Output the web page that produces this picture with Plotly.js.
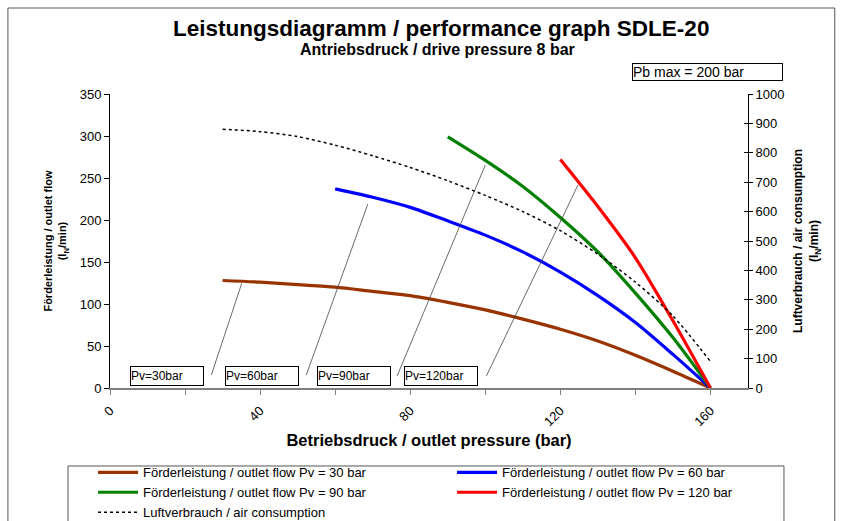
<!DOCTYPE html>
<html>
<head>
<meta charset="utf-8">
<script src="https://cdn.plot.ly/plotly-3.0.1.min.js"></script>
<style>html,body{margin:0;padding:0;background:#fff;}#chart{width:842px;height:521px;}</style>
</head>
<body>
<div id="chart"></div>
<script>
// ---- data ----
const pressure30 = [30, 40, 50, 60, 70, 80, 90, 100, 110, 120, 130, 140, 150, 160];
const flow30     = [128, 126, 123, 120, 115, 110, 102, 93, 82, 70, 56, 39, 20, 0];
const pressure60 = [60, 70, 80, 90, 100, 110, 120, 130, 140, 150, 160];
const flow60     = [237, 227, 215, 199, 182, 162, 138, 110, 78, 40, 0];
const pressure90 = [90, 100, 110, 120, 130, 140, 150, 160];
const flow90     = [299, 271, 240, 203, 162, 113, 60, 0];
const pressure120 = [120, 130, 140, 150, 160];
const flow120     = [272, 216, 155, 80, 0];
const airPressure = [30, 40, 50, 60, 70, 80, 90, 100, 110, 120, 130, 140, 150, 160];
const airFlow     = [880, 872, 855, 826, 790, 750, 705, 655, 600, 535, 455, 360, 245, 90];

const seriesNames = [
  "Förderleistung / outlet flow Pv = 30 bar",
  "Förderleistung / outlet flow Pv = 60 bar",
  "Förderleistung / outlet flow Pv = 90 bar",
  "Förderleistung / outlet flow Pv = 120 bar",
  "Luftverbrauch / air consumption"
];
const xTickVals = [0, 20, 40, 60, 80, 100, 120, 140, 160];
const xTickText = ["0", "", "40", "", "80", "", "120", "", "160"];
const boxLabels = ["Pv=30bar", "Pv=60bar", "Pv=90bar", "Pv=120bar"];

const FONT = "Liberation Sans, Arial, Helvetica, sans-serif";

function line(x, y, name, color) {
  return {
    x: x, y: y, name: name, type: "scatter", mode: "lines",
    line: {color: color, width: 3.2, shape: "spline", smoothing: 0.8},
    hoverinfo: "skip"
  };
}

const traces = [
  line(pressure30, flow30, seriesNames[0], "#993300"),
  line(pressure60, flow60, seriesNames[1], "#0000FF"),
  line(pressure90, flow90, seriesNames[2], "#008000"),
  line(pressure120, flow120, seriesNames[3], "#FF0000"),
  {x: airPressure, y: airFlow, name: seriesNames[4], type: "scatter", mode: "lines", yaxis: "y2",
   line: {color: "#000000", width: 1.5, dash: "dot", shape: "spline", smoothing: 0.8}, hoverinfo: "skip"},
  // empty helper trace so the inner half of the right-axis ticks is drawn (ticks cross the axis)
  {x: [], y: [], type: "scatter", mode: "lines", yaxis: "y3", showlegend: false, hoverinfo: "skip"}
];

// leader lines (box -> curve), in data units
const leaders = [
  [27, 15.5, 35.1, 124.6],
  [52.3, 15.5, 68.7, 219],
  [76.5, 14.3, 100, 265.5],
  [100.3, 14.3, 124.7, 241.7]
];
const boxLeft = [5.3, 30.7, 55.1, 78.4];

const shapes = leaders.map(l => ({type: "line", xref: "x", yref: "y", x0: l[0], y0: l[1], x1: l[2], y1: l[3],
  line: {color: "#444444", width: 0.8}}));
// outer chart frame
shapes.push({type: "rect", xref: "paper", yref: "paper", x0: -0.16, x1: 1.136, y0: -0.6, y1: 1.2925,
  line: {color: "#555555", width: 1}, layer: "below"});
// legend frame
shapes.push({type: "rect", xref: "paper", yref: "paper", x0: -0.0658, x1: 1.0564, y0: -0.6, y1: -0.2653,
  line: {color: "#555555", width: 1}});

const annotations = boxLabels.map((t, i) => ({
  text: t, xref: "x", yref: "y", x: boxLeft[i], y: 14.5, xanchor: "left", yanchor: "middle",
  showarrow: false, align: "left", width: 72, height: 18, borderpad: 0,
  bordercolor: "#000", borderwidth: 1, bgcolor: "#fff",
  font: {family: FONT, size: 12, color: "#000"}
}));
annotations.push({
  text: "Pb max = 200 bar", xref: "paper", yref: "paper", x: 0.818, y: 1.105, xanchor: "left", yanchor: "top",
  showarrow: false, align: "left", width: 149, height: 16, borderpad: 0,
  bordercolor: "#000", borderwidth: 1, bgcolor: "#fff",
  font: {family: FONT, size: 14, color: "#000"}
});
annotations.push({
  text: "<b>Antriebsdruck / drive pressure 8 bar</b>", xref: "paper", yref: "paper",
  x: 0.514, y: 1.153, xanchor: "center", yanchor: "middle", showarrow: false,
  font: {family: FONT, size: 16, color: "#000"}
});

const layout = {
  width: 842, height: 521,
  margin: {l: 110, r: 94, t: 94, b: 133, autoexpand: false},
  paper_bgcolor: "#fff", plot_bgcolor: "#fff",
  font: {family: FONT, color: "#000"},
  title: {text: "<b>Leistungsdiagramm / performance graph SDLE-20</b>",
    x: 0.524, xanchor: "center", y: 0.946, yanchor: "middle", yref: "container",
    font: {family: FONT, size: 22.5, color: "#000"}},
  xaxis: {
    range: [0, 170], tickmode: "array", tickvals: xTickVals, ticktext: xTickText,
    tickangle: -45, ticks: "outside", ticklen: 5, tickcolor: "#808080",
    showline: true, linecolor: "#808080", linewidth: 2, showgrid: false, zeroline: false,
    tickfont: {family: FONT, size: 13, color: "#000"}, automargin: false, ticklabelstandoff: 3,
    title: {text: "<b>Betriebsdruck / outlet pressure (bar)</b>", standoff: 6,
      font: {family: FONT, size: 16.5, color: "#000"}},
    fixedrange: true
  },
  yaxis: {
    range: [0, 350], dtick: 50, ticks: "outside", ticklen: 5, tickcolor: "#000",
    showline: true, linecolor: "#000", linewidth: 1, showgrid: false, zeroline: false,
    tickfont: {family: FONT, size: 13, color: "#000"}, automargin: false,
    title: {text: "<b>Förderleistung / outlet flow<br>(l<sub>N</sub>/min)</b>", standoff: 10,
      font: {family: FONT, size: 11, color: "#000"}},
    fixedrange: true
  },
  yaxis2: {
    range: [0, 1000], dtick: 100, overlaying: "y", side: "right", anchor: "x",
    ticks: "outside", ticklen: 4, tickcolor: "#000",
    showline: true, linecolor: "#000", linewidth: 1, showgrid: false, zeroline: false,
    tickfont: {family: FONT, size: 13, color: "#000"}, automargin: false,
    title: {text: "<b>Luftverbrauch / air consumption<br>(l<sub>N</sub>/min)</b>", standoff: 10,
      font: {family: FONT, size: 12, color: "#000"}},
    fixedrange: true
  },
  yaxis3: {
    range: [0, 1000], dtick: 100, overlaying: "y", side: "right", anchor: "x",
    ticks: "inside", ticklen: 4, tickcolor: "#000", showticklabels: false,
    showline: false, showgrid: false, zeroline: false, automargin: false, fixedrange: true
  },
  showlegend: true,
  legend: {
    orientation: "h", x: -0.0266, xanchor: "left", y: -0.236, yanchor: "top",
    entrywidth: 304, entrywidthmode: "pixels", itemwidth: 40,
    font: {family: FONT, size: 13, color: "#000"},
    bgcolor: "rgba(0,0,0,0)", borderwidth: 0, traceorder: "normal"
  },
  shapes: shapes,
  annotations: annotations
};

Plotly.newPlot("chart", traces, layout, {displayModeBar: false, staticPlot: true});
</script>
</body>
</html>
